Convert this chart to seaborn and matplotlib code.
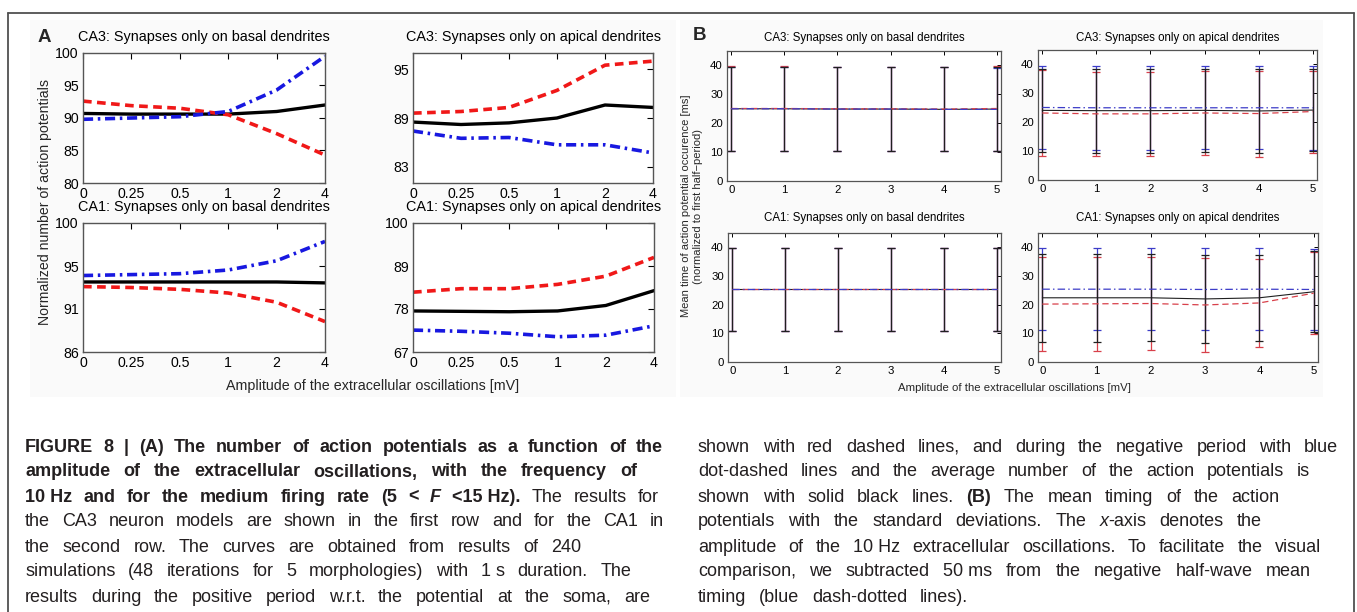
import numpy as np
import pandas as pd
import matplotlib
matplotlib.use("Agg")
import matplotlib.pyplot as plt
from matplotlib.lines import Line2D
from matplotlib.patches import Rectangle
import seaborn as sns

# ---------------- data: panel A (normalized number of action potentials) ----------------
amp_labels_A = ["0", "0.25", "0.5", "1", "2", "4"]

a_ca3_basal_pos = [92.6, 91.9, 91.5, 90.5, 87.6, 84.3]
a_ca3_basal_neg = [89.8, 90.0, 90.2, 91.0, 94.3, 99.5]
a_ca3_basal_avg = [90.7, 90.6, 90.6, 90.6, 91.0, 92.0]

a_ca3_apical_pos = [89.6, 89.8, 90.3, 92.4, 95.5, 96.0]
a_ca3_apical_neg = [87.4, 86.5, 86.6, 85.7, 85.7, 84.7]
a_ca3_apical_avg = [88.5, 88.2, 88.4, 89.0, 90.6, 90.3]

a_ca1_basal_pos = [93.1, 93.0, 92.8, 92.4, 91.4, 89.3]
a_ca1_basal_neg = [94.3, 94.4, 94.5, 94.9, 95.9, 98.0]
a_ca1_basal_avg = [93.6, 93.6, 93.6, 93.6, 93.6, 93.5]

a_ca1_apical_pos = [82.3, 83.2, 83.2, 84.3, 86.4, 91.2]
a_ca1_apical_neg = [72.6, 72.3, 71.8, 70.9, 71.3, 73.7]
a_ca1_apical_avg = [77.5, 77.4, 77.3, 77.5, 78.9, 82.7]

# ---------------- data: panel B (mean timing [ms] with standard deviations) ----------------
amp_B = [0, 1, 2, 3, 4, 5]

b_ca3_basal_pos_mean = [25.1, 25.1, 25.0, 25.0, 24.9, 25.1]
b_ca3_basal_pos_sd = [14.6, 14.6, 14.6, 14.6, 14.5, 14.6]
b_ca3_basal_neg_mean = [25.0, 25.0, 24.9, 24.9, 24.8, 24.8]
b_ca3_basal_neg_sd = [14.5, 14.5, 14.5, 14.5, 14.5, 14.3]
b_ca3_basal_avg_mean = [25.0, 25.0, 24.9, 24.9, 24.8, 24.9]
b_ca3_basal_avg_sd = [14.5, 14.5, 14.5, 14.5, 14.5, 14.4]

b_ca3_apical_pos_mean = [23.2, 22.9, 22.9, 23.2, 23.0, 23.7]
b_ca3_apical_pos_sd = [14.8, 14.6, 14.5, 14.6, 14.9, 14.2]
b_ca3_apical_neg_mean = [25.1, 25.0, 25.0, 25.0, 25.0, 25.0]
b_ca3_apical_neg_sd = [14.4, 14.5, 14.5, 14.4, 14.3, 14.6]
b_ca3_apical_avg_mean = [24.1, 24.0, 24.0, 24.1, 23.9, 24.2]
b_ca3_apical_avg_sd = [14.4, 14.5, 14.5, 14.3, 14.5, 14.3]

b_ca1_basal_pos_mean = [25.4, 25.4, 25.4, 25.4, 25.4, 25.4]
b_ca1_basal_pos_sd = [14.5, 14.5, 14.5, 14.5, 14.5, 14.5]
b_ca1_basal_neg_mean = [25.3, 25.3, 25.3, 25.3, 25.3, 25.3]
b_ca1_basal_neg_sd = [14.4, 14.4, 14.4, 14.4, 14.4, 14.4]
b_ca1_basal_avg_mean = [25.35, 25.35, 25.35, 25.35, 25.35, 25.35]
b_ca1_basal_avg_sd = [14.45, 14.45, 14.45, 14.45, 14.45, 14.45]

b_ca1_apical_pos_mean = [20.2, 20.3, 20.4, 19.9, 20.6, 24.0]
b_ca1_apical_pos_sd = [16.5, 16.4, 16.2, 16.3, 15.5, 14.2]
b_ca1_apical_neg_mean = [25.4, 25.4, 25.4, 25.3, 25.4, 25.3]
b_ca1_apical_neg_sd = [14.4, 14.4, 14.4, 14.3, 14.4, 14.2]
b_ca1_apical_avg_mean = [22.4, 22.4, 22.4, 22.0, 22.4, 24.5]
b_ca1_apical_avg_sd = [15.3, 15.3, 15.2, 15.3, 14.9, 14.2]

# ---------------- text ----------------
titles_A = ["CA3: Synapses only on basal dendrites", "CA3: Synapses only on apical dendrites",
            "CA1: Synapses only on basal dendrites", "CA1: Synapses only on apical dendrites"]
xlabel_text = "Amplitude of the extracellular oscillations [mV]"
ylabel_A = "Normalized number of action potentials"
ylabel_B = "Mean time of action potential occurence [ms]\n(normalized to first half\u2212period)"

B_, N_, I_ = "bold", "normal", "italic"
caption_left = [
    [("FIGURE 8 | (A) The number of action potentials as a function of the", B_, N_)],
    [("amplitude of the extracellular oscillations, with the frequency of", B_, N_)],
    [("10_Hz and for the medium firing rate (5 < ", B_, N_), ("F", B_, I_), (" <15_Hz).", B_, N_),
     (" The results for", N_, N_)],
    [("the CA3 neuron models are shown in the first row and for the CA1 in", N_, N_)],
    [("the second row. The curves are obtained from results of 240", N_, N_)],
    [("simulations (48 iterations for 5 morphologies) with 1_s duration. The", N_, N_)],
    [("results during the positive period w.r.t. the potential at the soma, are", N_, N_)],
]
caption_right = [
    [("shown with red dashed lines, and during the negative period with blue", N_, N_)],
    [("dot-dashed lines and the average number of the action potentials is", N_, N_)],
    [("shown with solid black lines. ", N_, N_), ("(B)", B_, N_), (" The mean timing of the action", N_, N_)],
    [("potentials with the standard deviations. The ", N_, N_), ("x", N_, I_), ("-axis denotes the", N_, N_)],
    [("amplitude of the 10_Hz extracellular oscillations. To facilitate the visual", N_, N_)],
    [("comparison, we subtracted 50_ms from the negative half-wave mean", N_, N_)],
    [("timing (blue dash-dotted lines).", N_, N_)],
]

# ---------------- style ----------------
sns.set_style("white")
plt.rcParams["font.family"] = ["Liberation Sans", "DejaVu Sans"]
plt.rcParams["axes.unicode_minus"] = True

W, H = 1357, 612
RED_A, BLUE_A = "#f01818", "#1818e0"
RED_B, BLUE_B, BLACK_B = "#d8404a", "#3c3cc8", "#202020"
TXT = "#231f20"

fig = plt.figure(figsize=(W / 100, H / 100), dpi=100)
fig.patch.set_facecolor("white")


def fx(x):
    return x / W


def fy(y):
    return 1 - y / H


def box(x0, y0, x1, y1):
    return [fx(x0), fy(y1), (x1 - x0) / W, (y1 - y0) / H]


# faint grey background of the figure image areas
fig.add_artist(Rectangle((fx(30), fy(397)), (676 - 30) / W, (397 - 20) / H, transform=fig.transFigure,
                         facecolor="#fafafa", edgecolor="none", zorder=-5))
fig.add_artist(Rectangle((fx(680), fy(397)), (1323 - 680) / W, (397 - 20) / H, transform=fig.transFigure,
                         facecolor="#fafafa", edgecolor="none", zorder=-5))

# outer frame
for xs, ys in [([8, 1354], [13, 13]), ([8, 8], [13, 640]), ([1354, 1354], [13, 640])]:
    fig.add_artist(Line2D([fx(v) for v in xs], [fy(v) for v in ys], transform=fig.transFigure,
                          color="#505050", lw=1.3))

# ---------------- panel A ----------------
A_boxes = [(83, 53, 325, 183), (413, 53, 653, 183), (83, 223, 325, 352), (413, 223, 654, 352)]
A_series = [
    (a_ca3_basal_pos, a_ca3_basal_neg, a_ca3_basal_avg, (80, 100), [80, 85, 90, 95, 100], ["80", "85", "90", "95", "100"]),
    (a_ca3_apical_pos, a_ca3_apical_neg, a_ca3_apical_avg, (81, 97), [83, 89, 95], ["83", "89", "95"]),
    (a_ca1_basal_pos, a_ca1_basal_neg, a_ca1_basal_avg, (86, 100), list(np.linspace(86, 100, 4)), ["86", "91", "95", "100"]),
    (a_ca1_apical_pos, a_ca1_apical_neg, a_ca1_apical_avg, (67, 100), [67, 78, 89, 100], ["67", "78", "89", "100"]),
]
xA = np.arange(len(amp_labels_A))
for (bx, (pos, neg, avg, ylim, yt, ytl), title) in zip(A_boxes, A_series, titles_A):
    ax = fig.add_axes(box(*bx))
    ax.set_facecolor("white")
    df = pd.DataFrame({"x": xA, "pos": pos, "neg": neg, "avg": avg})
    sns.lineplot(data=df, x="x", y="avg", ax=ax, color="black", lw=2.4, errorbar=None, sort=False)
    sns.lineplot(data=df, x="x", y="pos", ax=ax, color=RED_A, lw=2.6, errorbar=None, sort=False)
    ax.lines[-1].set_linestyle((0, (2.4, 1.5)))
    sns.lineplot(data=df, x="x", y="neg", ax=ax, color=BLUE_A, lw=2.6, errorbar=None, sort=False)
    ax.lines[-1].set_linestyle((0, (2.8, 1.3, 0.7, 1.3)))
    ax.set_xlim(0, 5)
    ax.set_ylim(*ylim)
    ax.set_xticks(xA)
    ax.set_xticklabels(amp_labels_A)
    ax.set_yticks(yt)
    ax.set_yticklabels(ytl)
    ax.set_xlabel("")
    ax.set_ylabel("")
    ax.tick_params(direction="in", length=4, width=0.8, top=True, right=True, labelsize=10.2,
                   colors="black", pad=3)
    for s in ax.spines.values():
        s.set_color("#555555")
        s.set_linewidth(1.0)
    cx = (bx[0] + bx[2]) / 2
    ty = 37 if bx[1] < 100 else 207
    fig.text(fx(cx), fy(ty), title, ha="center", va="center", fontsize=10.4, color="black")

fig.text(fx(44), fy(38), "A", ha="center", va="center", fontsize=13.5, fontweight="bold")
fig.text(fx(45), fy(202), ylabel_A, ha="center", va="center", rotation=90, fontsize=10.2)
fig.text(fx(373), fy(386), xlabel_text, ha="center", va="center", fontsize=10.3)

# ---------------- panel B ----------------
B_boxes = [(727, 51, 1001, 181), (1038, 50, 1317, 180), (728, 233, 1001, 362), (1038, 233, 1318, 362)]
B_series = [
    (b_ca3_basal_pos_mean, b_ca3_basal_pos_sd, b_ca3_basal_neg_mean, b_ca3_basal_neg_sd,
     b_ca3_basal_avg_mean, b_ca3_basal_avg_sd),
    (b_ca3_apical_pos_mean, b_ca3_apical_pos_sd, b_ca3_apical_neg_mean, b_ca3_apical_neg_sd,
     b_ca3_apical_avg_mean, b_ca3_apical_avg_sd),
    (b_ca1_basal_pos_mean, b_ca1_basal_pos_sd, b_ca1_basal_neg_mean, b_ca1_basal_neg_sd,
     b_ca1_basal_avg_mean, b_ca1_basal_avg_sd),
    (b_ca1_apical_pos_mean, b_ca1_apical_pos_sd, b_ca1_apical_neg_mean, b_ca1_apical_neg_sd,
     b_ca1_apical_avg_mean, b_ca1_apical_avg_sd),
]
for (bx, ser, title) in zip(B_boxes, B_series, titles_A):
    pm, ps, nm, ns, am, asd = ser
    ax = fig.add_axes(box(*bx))
    ax.set_facecolor("white")
    for m, sd, col in [(pm, ps, RED_B), (nm, ns, BLUE_B), (am, asd, BLACK_B)]:
        ax.errorbar(amp_B, m, yerr=sd, fmt="none", ecolor=col, elinewidth=0.9, capsize=3.2, capthick=0.9)
    df = pd.DataFrame({"x": amp_B, "pos": pm, "neg": nm, "avg": am})
    sns.lineplot(data=df, x="x", y="avg", ax=ax, color=BLACK_B, lw=0.8, errorbar=None, sort=False)
    sns.lineplot(data=df, x="x", y="pos", ax=ax, color=RED_B, lw=0.9, errorbar=None, sort=False)
    ax.lines[-1].set_linestyle((0, (5, 3)))
    sns.lineplot(data=df, x="x", y="neg", ax=ax, color=BLUE_B, lw=0.9, errorbar=None, sort=False)
    ax.lines[-1].set_linestyle((0, (6, 2.5, 1.2, 2.5)))
    ax.set_xlim(-0.08, 5.08)
    ax.set_ylim(0, 45)
    ax.set_xticks(amp_B)
    ax.set_yticks([0, 10, 20, 30, 40])
    ax.set_xlabel("")
    ax.set_ylabel("")
    ax.tick_params(direction="in", length=3, width=0.7, top=True, right=True, labelsize=8.2,
                   colors="black", pad=3)
    for s in ax.spines.values():
        s.set_color("#555555")
        s.set_linewidth(0.9)
    cx = (bx[0] + bx[2]) / 2
    ty = 38 if bx[1] < 100 else 218
    fig.text(fx(cx), fy(ty), title, ha="center", va="center", fontsize=8.3, color="black")

fig.text(fx(699), fy(36), "B", ha="center", va="center", fontsize=13.5, fontweight="bold")
fig.text(fx(692), fy(206), ylabel_B, ha="center", va="center", rotation=90, fontsize=8.0,
         linespacing=1.15, multialignment="center")
fig.text(fx(1014), fy(388), xlabel_text, ha="center", va="center", fontsize=8.2)

# ---------------- caption (justified word placement) ----------------
renderer = fig.canvas.get_renderer()
CAP_SIZE = 13.0


def tokenize(segments):
    tokens = [[]]
    for text, wt, st in segments:
        parts = text.split(" ")
        for i, p in enumerate(parts):
            if i > 0:
                tokens.append([])
            if p:
                tokens[-1].append((p.replace("_", " "), wt, st))
    return [t for t in tokens if t]


def place_line(x0, x1, y, segments):
    toks = tokenize(segments)
    arts, widths = [], []
    for tok in toks:
        segs, tw = [], 0.0
        for s, wt, st in tok:
            t = fig.text(0, fy(y), s, fontsize=CAP_SIZE, fontweight=wt, fontstyle=st, color=TXT,
                         ha="left", va="center_baseline")
            w = t.get_window_extent(renderer).width
            segs.append((t, w))
            tw += w
        arts.append(segs)
        widths.append(tw)
    n = len(toks)
    gap = (x1 - x0 - sum(widths)) / (n - 1) if n > 1 else 0
    x = x0
    for segs, tw in zip(arts, widths):
        xx = x
        for t, w in segs:
            t.set_x(fx(xx))
            xx += w
        x += tw + gap


cap_y = [445, 470, 495, 520, 545, 570, 595]
left_ends = [663, 637, 659, 664, 581, 631, 650]
right_ends = [1338, 1310, 1279, 1262, 1321, 1311, 968]
for y, seg, xe in zip(cap_y, caption_left, left_ends):
    place_line(25, xe, y, seg)
for y, seg, xe in zip(cap_y, caption_right, right_ends):
    place_line(698, xe, y, seg)

fig.savefig("out.png", dpi=100, facecolor="white")
